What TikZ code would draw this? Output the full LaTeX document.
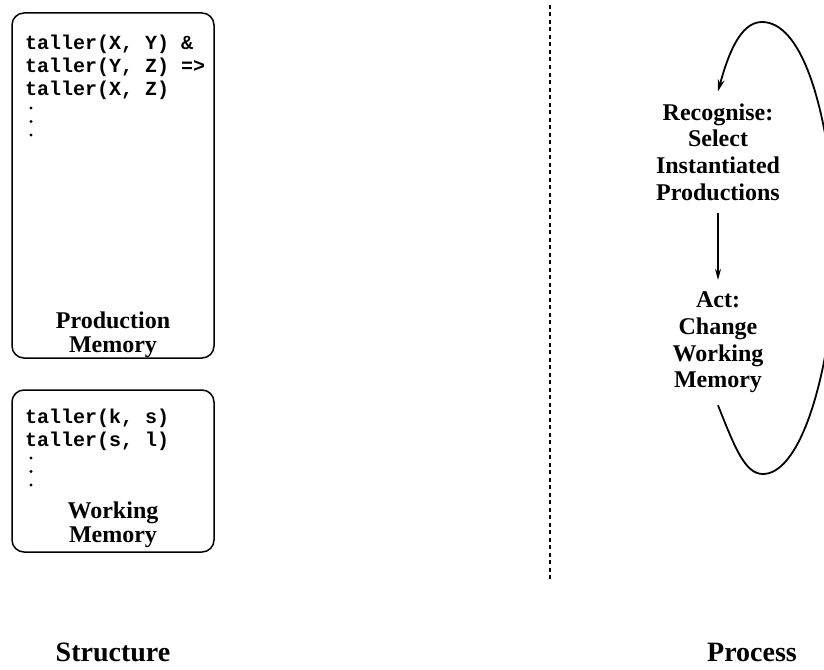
\documentclass[tikz,border=0pt]{standalone}
\usepackage{fontspec}
\setmainfont{Liberation Serif}
\setmonofont{Liberation Mono}
\usetikzlibrary{arrows.meta,positioning}

\begin{document}
\begin{tikzpicture}[x=1pt,y=-1pt,
    membox/.style={draw,line width=1.5pt,rounded corners=12pt},
    rules/.style={font=\fontsize{20}{23}\selectfont\ttfamily\bfseries,align=left,inner sep=0pt,anchor=base west},
    label/.style={font=\fontsize{24}{24}\selectfont\bfseries,align=center,inner sep=0pt},
    stage/.style={font=\fontsize{24}{26.67}\selectfont\bfseries,align=center,inner sep=12pt},
    heading/.style={font=\fontsize{28}{30}\selectfont\bfseries,anchor=base,inner sep=0pt},
    cycle/.style={line width=1.8pt,-{Stealth[length=12pt,width=7pt]}}]
  \useasboundingbox (0,0) rectangle (824,669);
  \clip (0,0) rectangle (824,669);
  % structure side
  \node[membox,minimum width=202pt,minimum height=345pt] (prodmem) at (113,185.5) {};
  \node[membox,minimum width=202pt,minimum height=162pt] (workmem) at (113,471) {};
  % base of a multi-line node sits on its last line
  \node[rules] (prodrules) at (25,95) {taller(X, Y) \&\\taller(Y, Z) =>\\taller(X, Z)};
  \node[rules] (workfacts) at (25,446) {taller(k, s)\\taller(s, l)};
  \foreach \y in {108,121.5,135} \fill (31,\y) circle (1.7);
  \foreach \y in {458,471.5,485} \fill (31,\y) circle (1.7);
  \node[label] (prodname) at (113,334.5) {Production\\Memory};
  \node[label] (workname) at (113,524.5) {Working\\Memory};
  % divider
  \draw[line width=1.4pt,dash pattern=on 4pt off 3.5pt] (550,5) -- (550,582);
  % process side
  \node[stage] (recog) at (718,152) {Recognise:\\Select\\Instantiated\\Productions};
  \node[stage] (act) at (718,342.6) {Act:\\Change\\Working\\Memory};
  \draw[line width=1.3pt,-{Stealth[length=11pt,width=6pt]}] (recog) -- (act);
  \draw[cycle] (act.south) .. controls (735,448) and (745,474) .. (763,474)
    .. controls (795,474) and (828,400) .. (838,250)
    .. controls (830,100) and (800,22) .. (762,22)
    .. controls (740,22) and (728,55) .. (recog.north);
  % headings
  \node[heading] (structure) at (113,661) {Structure};
  \node[heading] (process) at (752,661) {Process};
\end{tikzpicture}
\end{document}
